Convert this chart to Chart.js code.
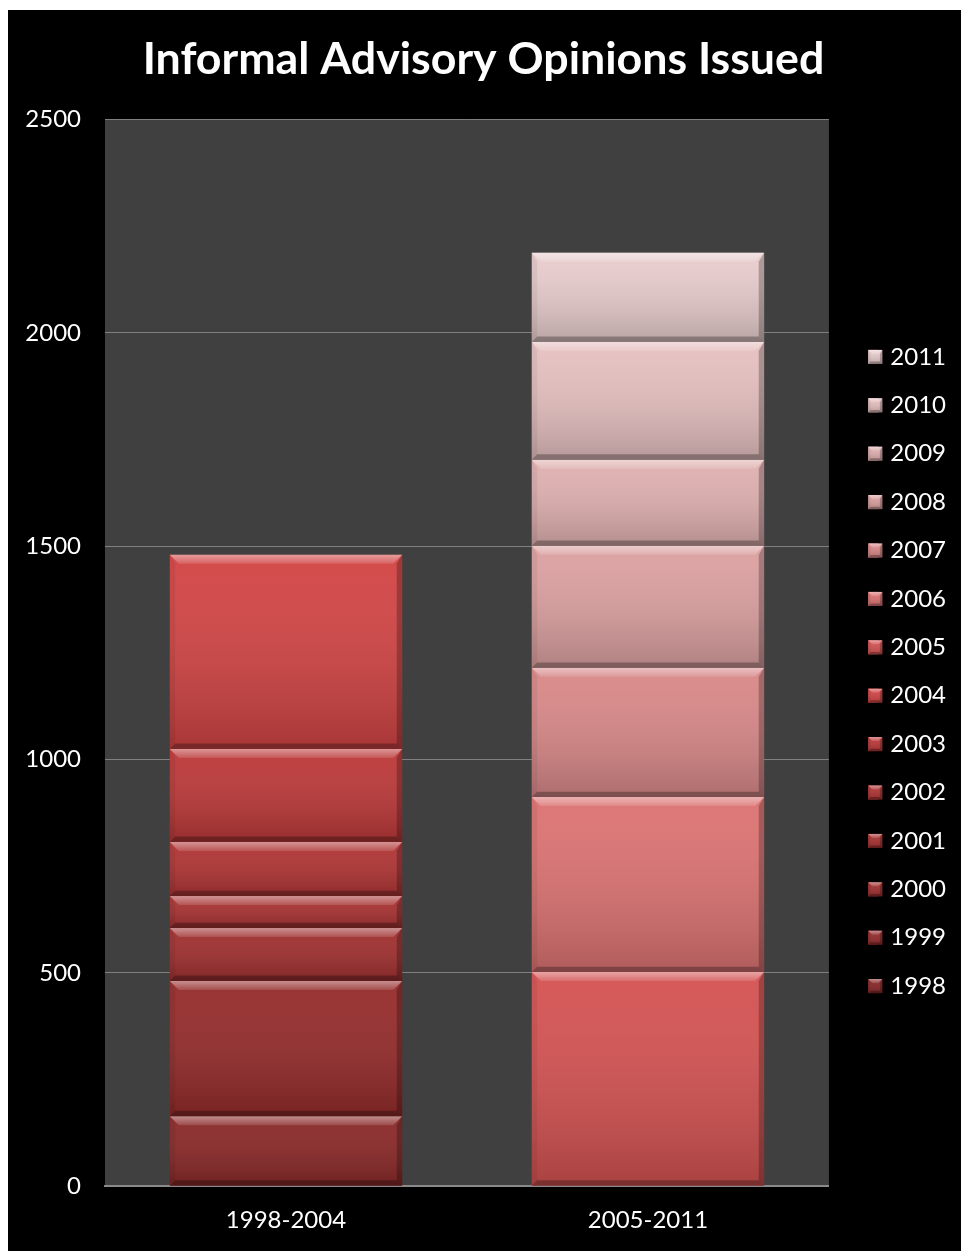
<!DOCTYPE html>
<html lang="en">
<head>
  <meta charset="UTF-8" />
  <title>Informal Advisory Opinions Issued</title>
  <script src="https://cdn.jsdelivr.net/npm/chart.js"></script>
  <style>
    html, body { margin: 0; padding: 0; background: #fff; }
    #wrap { position: absolute; left: 8px; top: 10px; width: 953px; height: 1241px; background: #000; }
  </style>
</head>
<body>
  <div id="wrap"><canvas id="opinionsChart"></canvas></div>

  <script>
    const categories = ['1998-2004', '2005-2011'];
    const years = ['1998', '1999', '2000', '2001', '2002', '2003', '2004',
                   '2005', '2006', '2007', '2008', '2009', '2010', '2011'];
    const opinions = [164, 317, 124, 75, 127, 218, 455,
                      502, 410, 303, 286, 202, 276, 209];
    const yearColors = ['#8a2828', '#952b2b', '#a02f2f', '#a83131', '#b03434', '#bc3838', '#d24444',
                        '#d45252', '#dc7272', '#d98888', '#dca0a0', '#e0b0b0', '#e6c0c0', '#e8cccc'];

    // first seven years go in the first bar, the rest in the second
    const datasets = years.map((yr, i) => ({
      label: yr,
      data: i < 7 ? [opinions[i], null] : [null, opinions[i]],
      backgroundColor: yearColors[i],
      stack: 'all'
    }));

    const plotBg = {
      id: 'plotBg',
      beforeDraw(chart) {
        const a = chart.chartArea, c = chart.ctx;
        c.save();
        c.fillStyle = '#404040';
        c.fillRect(a.left, a.top, a.right - a.left, a.bottom - a.top);
        c.restore();
      }
    };

    function trap(c, pts, fill) {
      c.beginPath();
      c.moveTo(pts[0], pts[1]);
      for (let k = 2; k < pts.length; k += 2) c.lineTo(pts[k], pts[k + 1]);
      c.closePath();
      c.fillStyle = fill;
      c.fill();
    }

    function bevel(c, l, t, r, b, s) {
      const g = c.createLinearGradient(0, t, 0, b);
      g.addColorStop(0, 'rgba(255,255,255,0.04)');
      g.addColorStop(1, 'rgba(0,0,0,0.2)');
      c.fillStyle = g;
      c.fillRect(l, t, r - l, b - t);
      const hg = c.createLinearGradient(0, t, 0, t + s);
      hg.addColorStop(0, 'rgba(255,255,255,0.45)');
      hg.addColorStop(1, 'rgba(255,255,255,0.12)');
      trap(c, [l, t, r, t, r - s, t + s, l + s, t + s], hg);
      trap(c, [l, b, r, b, r - s * 0.6, b - s * 0.6, l + s * 0.6, b - s * 0.6], 'rgba(0,0,0,0.28)');
      trap(c, [l, t, l + s * 0.6, t + s, l + s * 0.6, b - s * 0.6, l, b], 'rgba(0,0,0,0.06)');
      trap(c, [r, t, r - s * 0.6, t + s, r - s * 0.6, b - s * 0.6, r, b], 'rgba(0,0,0,0.25)');
    }

    const bevelBars = {
      id: 'bevelBars',
      afterLayout(chart) {
        // nudge the legend column away from the plot, as in the original
        const lg = chart.legend;
        if (!lg) return;
        lg.left += 15; lg.right += 15;
        lg.top += 43; lg.bottom += 43;
      },
      afterDatasetsDraw(chart) {
        const c = chart.ctx;
        c.save();
        chart.data.datasets.forEach((ds, di) => {
          chart.getDatasetMeta(di).data.forEach((el, idx) => {
            if (ds.data[idx] == null) return;
            const p = el.getProps(['x', 'y', 'base', 'width'], true);
            const l = p.x - p.width / 2, r = p.x + p.width / 2;
            const t = Math.min(p.y, p.base), b = Math.max(p.y, p.base);
            bevel(c, l, t, r, b, Math.min(9, (b - t) / 3));
          });
        });
        c.restore();
      },
      afterDraw(chart) {
        // bevelled legend swatches, a little wider than the stock box
        const lg = chart.legend;
        if (!lg || !lg.legendHitBoxes) return;
        const c = chart.ctx, sz = 14;
        c.save();
        lg.legendHitBoxes.forEach((h, i) => {
          const item = lg.legendItems[i];
          const t = h.top + (h.height - sz) / 2;
          c.fillStyle = item.fillStyle;
          c.fillRect(h.left, t, sz, sz);
          bevel(c, h.left, t, h.left + sz, t + sz, 4);
        });
        c.restore();
      }
    };

    const ctx = document.getElementById('opinionsChart').getContext('2d');
    new Chart(ctx, {
      type: 'bar',
      data: { labels: categories, datasets: datasets },
      options: {
        responsive: true,
        maintainAspectRatio: false,
        animation: false,
        barPercentage: 0.642,
        categoryPercentage: 1,
        layout: { padding: { left: 18, right: 20, top: 0, bottom: 4 } },
        plugins: {
          title: {
            display: true,
            text: 'Informal Advisory Opinions Issued',
            color: '#fff',
            font: { family: 'Lato', size: 44.7, weight: 'bold' },
            padding: { top: 23, bottom: 33 }
          },
          legend: {
            position: 'right',
            reverse: true,
            labels: {
              color: '#fff',
              font: { family: 'Lato', size: 24 },
              boxWidth: 10,
              boxHeight: 14,
              padding: 24.4
            }
          },
          tooltip: { enabled: false }
        },
        scales: {
          x: {
            stacked: true,
            grid: { display: false },
            border: { display: true, color: '#8a8a8a', width: 2 },
            ticks: { color: '#fff', font: { family: 'Lato', size: 24 }, padding: 12 }
          },
          y: {
            stacked: true,
            min: 0,
            max: 2500,
            afterFit: s => { s.width = 79; },
            border: { display: false },
            grid: { color: '#808080', drawTicks: false },
            ticks: {
              stepSize: 500,
              color: '#fff',
              font: { family: 'Lato', size: 24 },
              padding: 24,
              callback: v => String(v)
            }
          }
        }
      },
      plugins: [plotBg, bevelBars]
    });
  </script>
</body>
</html>
